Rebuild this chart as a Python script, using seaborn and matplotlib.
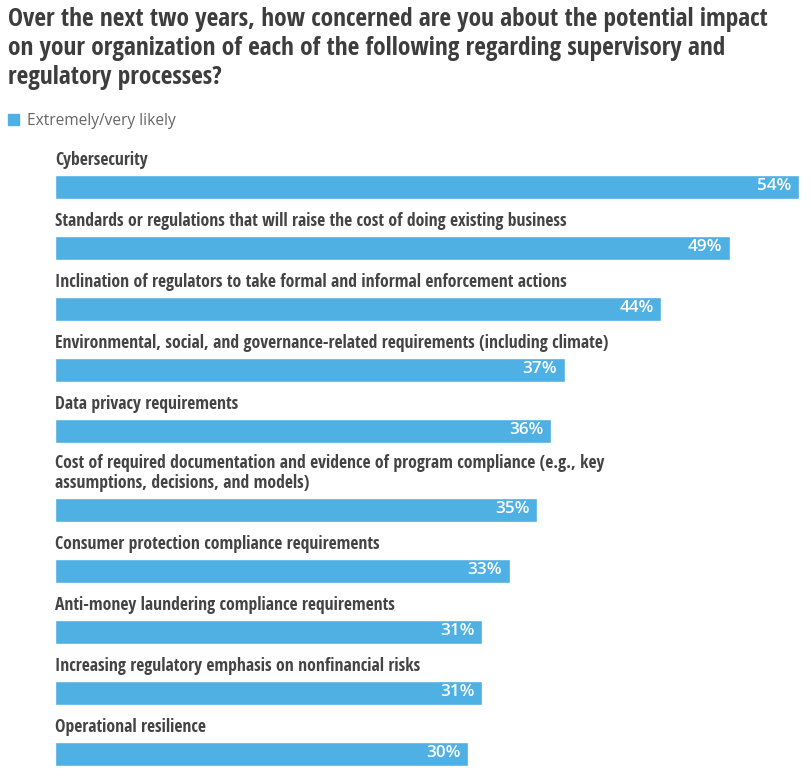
import matplotlib
matplotlib.use("Agg")
import matplotlib.pyplot as plt
import seaborn as sns
import pandas as pd
from matplotlib import font_manager
from matplotlib.patches import Patch

# data
labels = [
    "Cybersecurity",
    "Standards or regulations that will raise the cost of doing existing business",
    "Inclination of regulators to take formal and informal enforcement actions",
    "Environmental, social, and governance-related requirements (including climate)",
    "Data privacy requirements",
    "Cost of required documentation and evidence of program compliance (e.g., key\nassumptions, decisions, and models)",
    "Consumer protection compliance requirements",
    "Anti-money laundering compliance requirements",
    "Increasing regulatory emphasis on nonfinancial risks",
    "Operational resilience",
]
values = [54, 49, 44, 37, 36, 35, 33, 31, 31, 30]
series_name = "Extremely/very likely"
title = ("Over the next two years, how concerned are you about the potential impact\n"
         "on your organization of each of the following regarding supervisory and\n"
         "regulatory processes?")

BLUE = "#4FB0E3"
DARK = "#3d3d3d"

sns.set_theme(style="white")
installed = {f.name for f in font_manager.fontManager.ttflist}
narrow = next((n for n in ["Open Sans Condensed", "Liberation Sans Narrow", "DejaVu Sans Condensed"]
               if n in installed), "DejaVu Sans")
plt.rcParams["font.family"] = [narrow, "DejaVu Sans"]
plain = ["Open Sans", "DejaVu Sans"]

# row positions: one unit per row, extra room for two-line labels
extra = 0.31
pos = []
y = 0.0
for i, lab in enumerate(labels):
    if i > 0:
        y += 1 + extra * (lab.count("\n"))
    pos.append(y)
df = pd.DataFrame({"label": labels, "value": values, "pos": pos})

W, H = 812, 777
fig = plt.figure(figsize=(W / 100, H / 100), dpi=100)
ax_top_px = 140
unit_px = 60.9
ax = fig.add_axes([55 / W, 0, 744 / W, (H - ax_top_px) / H])

sns.barplot(data=df, x="value", y="pos", orient="h", native_scale=True,
            color=BLUE, width=24 / unit_px, saturation=1, ax=ax)

top = -(187 - ax_top_px) / unit_px
ax.set_ylim(top + (H - ax_top_px) / unit_px, top)
ax.set_xlim(0, 54)
ax.axis("off")

for p, lab, v in zip(pos, labels, values):
    ax.text(0, p - 12 / unit_px - 6 / unit_px, lab, ha="left", va="bottom",
            fontsize=12.7, fontweight="bold", color="#444444", linespacing=1.2)
    ax.text(v - 0.55, p - 1 / unit_px, f"{v}%", ha="right", va="center", family=plain,
            fontsize=12.3, fontweight="semibold", color="white")

fig.text(8 / W, 1 - 7 / H, title, ha="left", va="top", fontsize=18.3,
         fontweight="bold", color=DARK, linespacing=1.2)

fig.legend(handles=[Patch(color=BLUE, label=series_name)], loc="upper left",
           bbox_to_anchor=(-6 / W, 1 - 99 / H), frameon=False,
           handlelength=0.7, handleheight=0.7, handletextpad=0.5,
           prop={"size": 11.2, "family": plain}, labelcolor="#666666")

fig.savefig("out.png", dpi=100)
